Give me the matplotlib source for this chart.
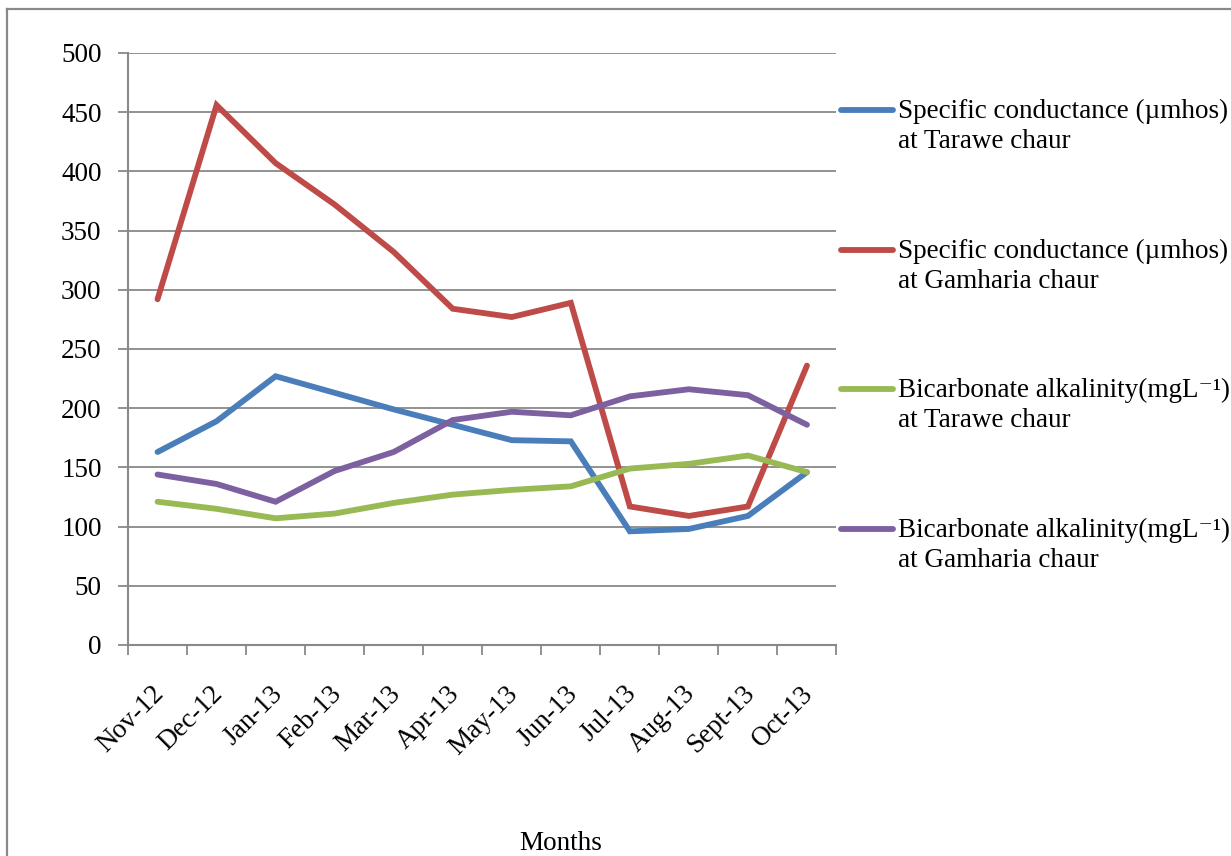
import matplotlib
matplotlib.use('Agg')
import matplotlib.pyplot as plt
import matplotlib.transforms as mtransforms
from matplotlib.lines import Line2D

plt.rcParams['font.family'] = ['Liberation Serif', 'DejaVu Serif']

# data
months = ['Nov-12', 'Dec-12', 'Jan-13', 'Feb-13', 'Mar-13', 'Apr-13',
          'May-13', 'Jun-13', 'Jul-13', 'Aug-13', 'Sept-13', 'Oct-13']
cond_tarawe = [163, 189, 227, 213, 199, 186, 173, 172, 96, 98, 109, 146]
cond_gamharia = [292, 456, 407, 372, 332, 284, 277, 289, 117, 109, 117, 236]
bicarb_tarawe = [121, 115, 107, 111, 120, 127, 131, 134, 149, 153, 160, 146]
bicarb_gamharia = [144, 136, 121, 147, 163, 190, 197, 194, 210, 216, 211, 186]

labels = ['Specific conductance (\u00b5mhos)\nat Tarawe chaur',
          'Specific conductance (\u00b5mhos)\nat Gamharia chaur',
          'Bicarbonate alkalinity(mgL\u207b\u00b9)\nat Tarawe chaur',
          'Bicarbonate alkalinity(mgL\u207b\u00b9)\nat Gamharia chaur']
colors = ['#4A7EBB', '#BE4B48', '#98B954', '#7D60A0']
series = [cond_tarawe, cond_gamharia, bicarb_tarawe, bicarb_gamharia]

grey = '#898989'
fs = 19.5

fig = plt.figure(figsize=(12.31, 8.56), dpi=100)
ax = fig.add_axes([128 / 1231, 1 - 645 / 856, (836.5 - 128) / 1231, (645 - 53) / 856])

x = list(range(len(months)))
for ys, c in zip(series, colors):
    ax.plot(x, ys, color=c, lw=4.2, solid_capstyle='round', solid_joinstyle='miter', zorder=3)

ax.set_xlim(-0.5, len(months) - 0.5)
ax.set_ylim(0, 500)
ax.set_yticks(range(0, 501, 50))
ax.yaxis.grid(True, color=grey, lw=1.3)
ax.set_axisbelow(True)

# category ticks on boundaries, labels at centres
ax.set_xticks([i - 0.5 for i in range(len(months) + 1)])
ax.set_xticklabels([])
ax.set_xticks(x, minor=True)
ax.set_xticklabels(months, minor=True, rotation=45, ha='right', va='top',
                   rotation_mode='anchor', fontsize=fs)
ax.tick_params(axis='x', which='minor', length=0, pad=26)
ax.tick_params(axis='x', which='major', length=7, width=1.3, color=grey, direction='out')
ax.tick_params(axis='y', length=7, width=1.3, color=grey, labelsize=fs, pad=12)
shift = mtransforms.ScaledTranslation(-6 / 100, 0, fig.dpi_scale_trans)
for lbl in ax.get_xticklabels(minor=True):
    lbl.set_transform(lbl.get_transform() + shift)

for s in ['top', 'right']:
    ax.spines[s].set_visible(False)
for s in ['left', 'bottom']:
    ax.spines[s].set_color(grey)
    ax.spines[s].set_linewidth(1.5)

fig.text(561 / 1231, 1 - 843 / 856, 'Months', ha='center', va='center', fontsize=fs)

# legend drawn by hand so the key sits on the first text line
leg_y = [110, 250, 389, 529]
for ly, c, lab in zip(leg_y, colors, labels):
    fy = 1 - ly / 856
    fig.add_artist(Line2D([841 / 1231, 893 / 1231], [fy, fy], color=c, lw=4.2,
                          solid_capstyle='round', transform=fig.transFigure))
    fig.text(898 / 1231, 1 - (ly - 11) / 856, lab, ha='left', va='top',
             fontsize=fs, linespacing=1.25)

# outer frame (only left and top edges visible)
fig.add_artist(Line2D([7 / 1231, 7 / 1231], [0, 1 - 9 / 856], color=grey, lw=1.6,
                      transform=fig.transFigure))
fig.add_artist(Line2D([7 / 1231, 1], [1 - 9 / 856, 1 - 9 / 856], color=grey, lw=1.6,
                      transform=fig.transFigure))

fig.savefig('out.png', dpi=100)
